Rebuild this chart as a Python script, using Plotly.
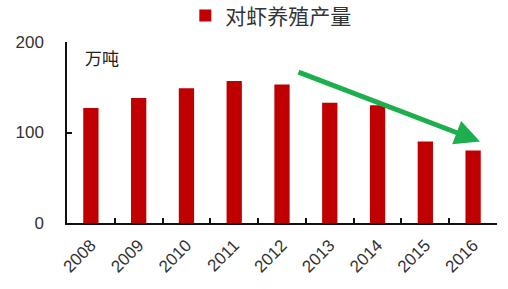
import plotly.graph_objects as go

years = ["2008", "2009", "2010", "2011", "2012", "2013", "2014", "2015", "2016"]
output = [127, 138, 149, 157, 153, 133, 130, 90, 80]
series_name = "对虾养殖产量"
unit_label = "万吨"

FONT = "Arial, 'Liberation Sans', 'Noto Sans CJK SC', sans-serif"
CJK = "'Noto Sans CJK SC', sans-serif"

fig = go.Figure()
fig.add_trace(go.Bar(
    x=years, y=output, name=series_name,
    marker=dict(color="#C00000", line=dict(width=0)),
    showlegend=True,
))

fig.update_layout(
    width=508, height=289,
    margin=dict(l=67, r=11, t=42, b=66, autoexpand=False),
    paper_bgcolor="white", plot_bgcolor="white",
    bargap=0.68,
    font=dict(family=FONT, color="#333333", size=15),
    showlegend=True,
    legend=dict(
        orientation="h", x=0.474, xanchor="center", y=0.945, yanchor="middle",
        yref="container", font=dict(size=21, family=CJK, color="#333333"),
        bgcolor="rgba(0,0,0,0)",
    ),
    xaxis=dict(
        type="category", showline=True, linecolor="#111111", linewidth=1.5,
        ticks="inside", ticklen=5, tickcolor="#111111", tickwidth=1.5,
        tickson="boundaries", tickangle=-45, showgrid=False,
        tickfont=dict(size=17, color="#333333"), ticklabelstandoff=4,
    ),
    yaxis=dict(
        range=[0, 200], tickvals=[0, 100, 200], showline=True,
        linecolor="#111111", linewidth=1.5, ticks="inside", ticklen=5,
        tickcolor="#111111", tickwidth=1.5, showgrid=False, zeroline=False,
        ticklabelstandoff=18, tickfont=dict(size=17, color="#333333"),
    ),
)

fig.add_annotation(
    text=unit_label, xref="paper", yref="paper", x=0.081, y=0.917,
    xanchor="center", yanchor="middle",
    showarrow=False, font=dict(size=17, family=CJK, color="#222222"),
)

fig.add_annotation(
    text="", xref="paper", yref="paper", x=0.9605, y=0.45,
    ax=-183, ay=-70, showarrow=True, arrowhead=2, arrowsize=1,
    arrowwidth=5, arrowcolor="#1DAF4E", standoff=0,
)

fig.write_html("out.html")
